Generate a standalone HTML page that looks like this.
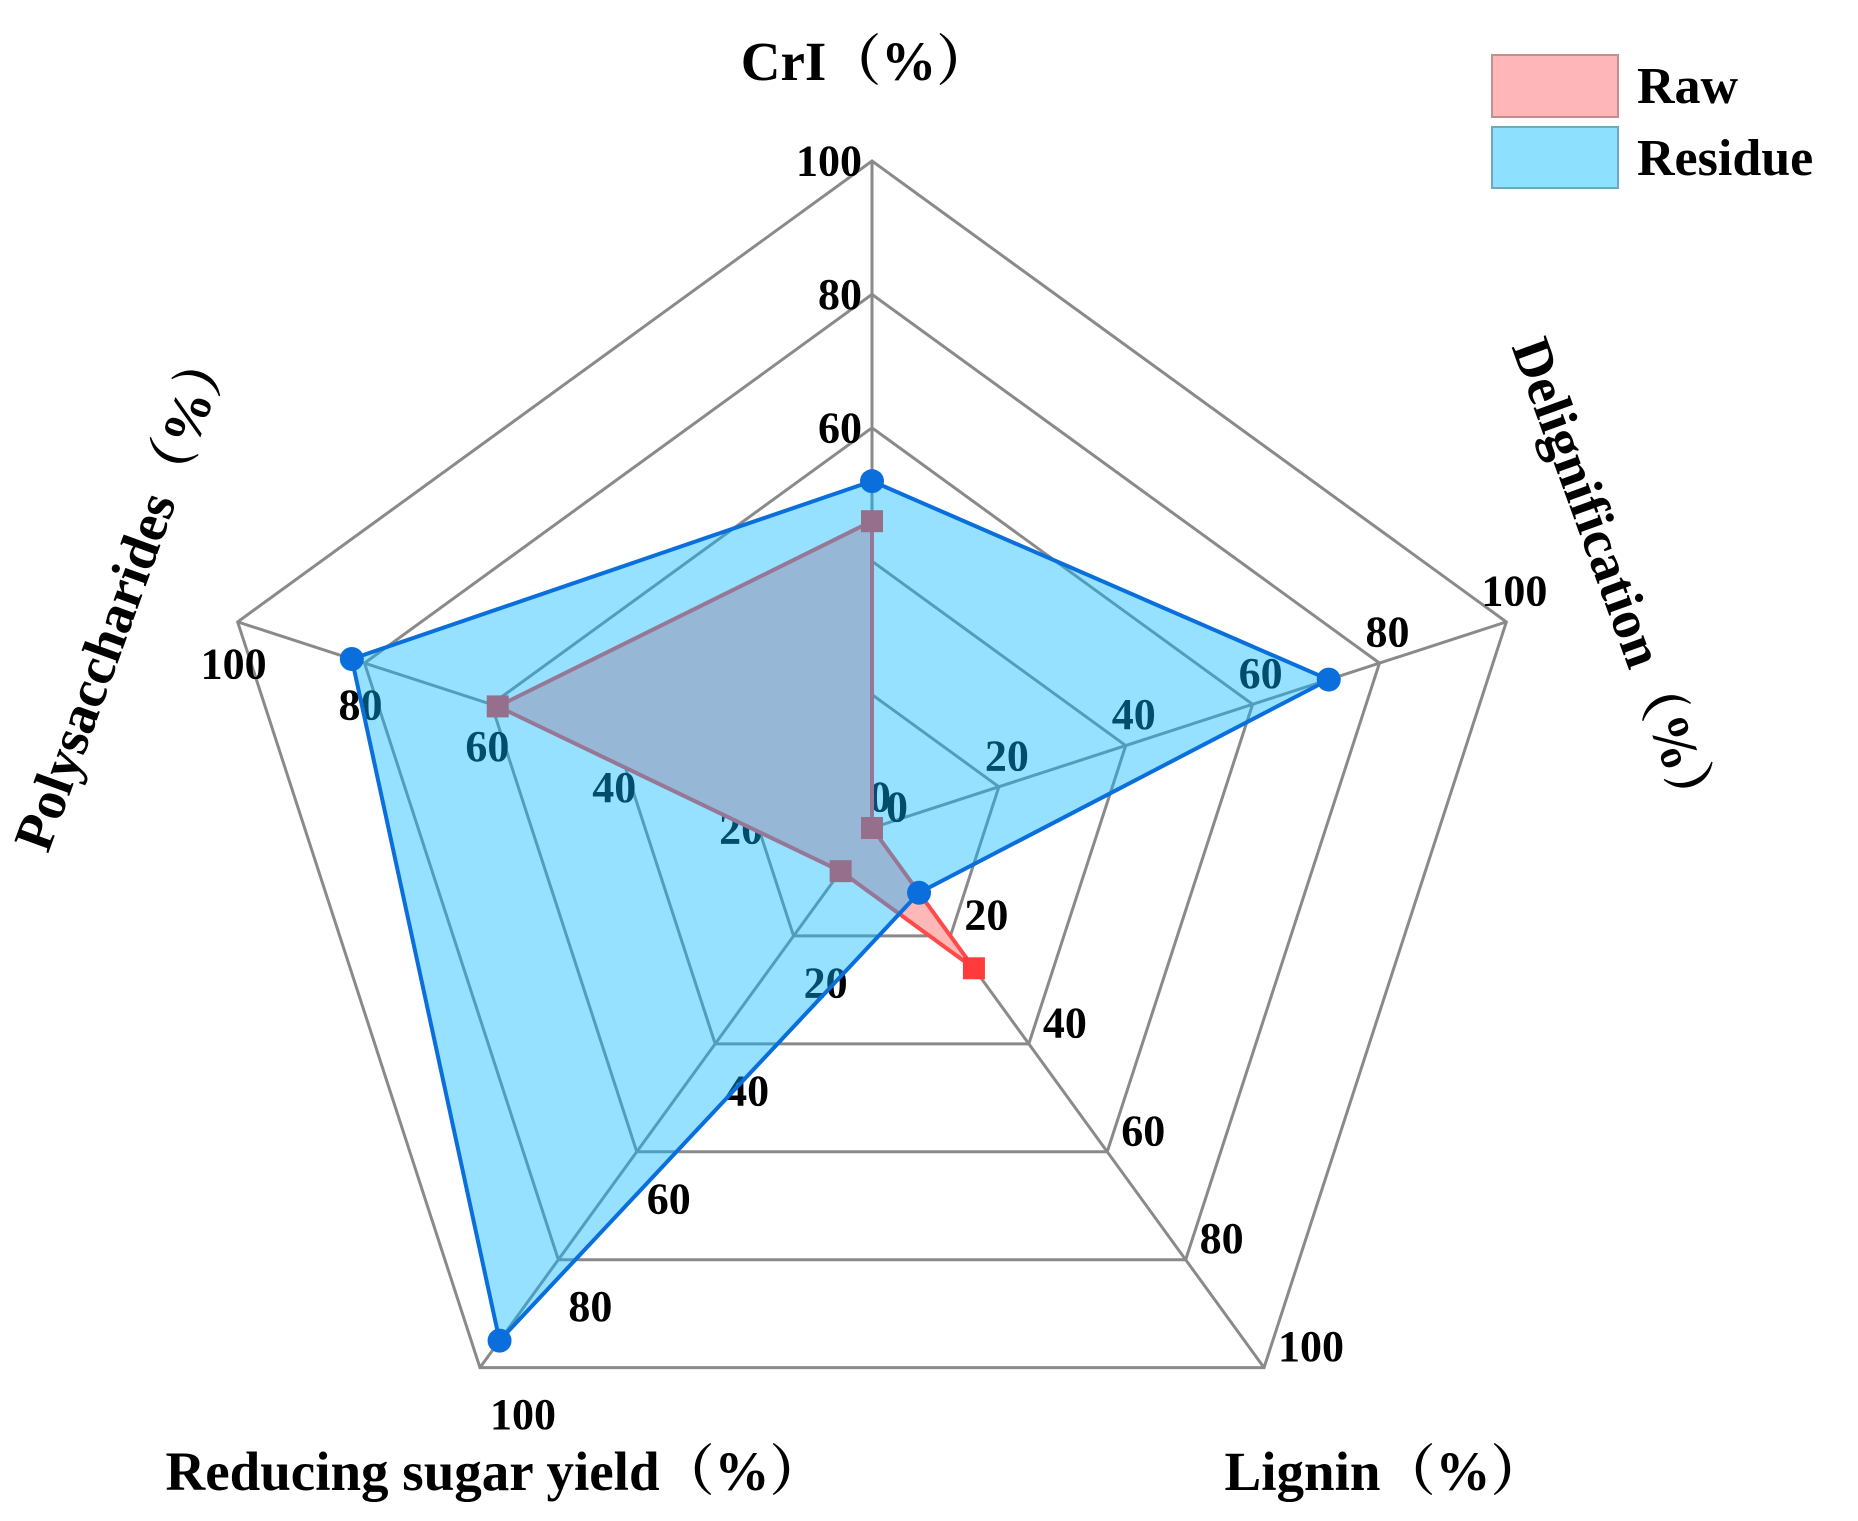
<!DOCTYPE html>
<html><head><meta charset="utf-8"><style>
html,body{margin:0;padding:0;background:#fff;}
svg{display:block;}
text{font-family:"Liberation Serif","Noto Serif CJK SC",serif;font-weight:bold;fill:#000;}
</style></head><body>
<svg id="chart" width="1858" height="1521" viewBox="0 0 1858 1521" xmlns="http://www.w3.org/2000/svg">
<g id="grid"></g>
<g id="ticks"></g>
<g id="series"></g>
<text x="866" y="80" font-size="55" text-anchor="middle">CrI（%）</text>
<text transform="translate(1616,580) rotate(70)" font-size="55" text-anchor="middle" dominant-baseline="central">Delignification（%）</text>
<text x="1385" y="1490" font-size="55" text-anchor="middle">Lignin（%）</text>
<text x="495" y="1490" font-size="55" text-anchor="middle">Reducing sugar yield（%）</text>
<text transform="translate(123,594) rotate(-70)" font-size="55" text-anchor="middle" dominant-baseline="central">Polysaccharides（%）</text>
<g>
<rect x="1492" y="55" width="126" height="62" fill="#ffb6b8" stroke="#c09090" stroke-width="2"/>
<text x="1637" y="103" font-size="52">Raw</text>
<rect x="1492" y="127" width="126" height="61" fill="#8ee0ff" stroke="#70a8c0" stroke-width="2"/>
<text x="1637" y="175" font-size="52">Residue</text>
</g>
</svg>
<script>
const axes = ["CrI", "Delignification", "Lignin", "Reducing sugar yield", "Polysaccharides"];
const rawValues = [46, 0, 26, 8, 59];
const residueValues = [52, 72, 12, 95, 82];
const tickValues = [0, 20, 40, 60, 80, 100];
const tickLabels = ["0", "20", "40", "60", "80", "100"];

const NS = "http://www.w3.org/2000/svg";
const cx = 872, cy = 828, R = 667, vmax = 100;
function rScale(v){ return v / vmax * R; }
function pt(i, v){ const a = i * 2 * Math.PI / axes.length; const r = rScale(v); return [cx + r * Math.sin(a), cy - r * Math.cos(a)]; }
function mk(tag, attrs, parent){ const e = document.createElementNS(NS, tag); for (const k in attrs) e.setAttribute(k, attrs[k]); parent.appendChild(e); return e; }

const grid = document.getElementById("grid");
tickValues.forEach((t) => {
  if (t === 0) return;
  const pts = axes.map((_, i) => pt(i, t).join(",")).join(" ");
  const ring = mk("polygon", {points: pts, fill: "none", stroke: "#8a8a8a", "stroke-width": 3}, grid);
  
  
});
axes.forEach((_, i) => {
  const p = pt(i, vmax);
  const ln = mk("line", {x1: cx, y1: cy, x2: p[0], y2: p[1], stroke: "#8a8a8a", "stroke-width": 3}, grid);
  
  
});

const off = [
  {dx: -10, dy: 0, anchor: "end"},
  {dx: 8, dy: -31, anchor: "middle"},
  {dx: 14, dy: -21, anchor: "start"},
  {dx: 10, dy: 47, anchor: "start"},
  {dx: -4, dy: 42, anchor: "middle"}
];
const ticks = document.getElementById("ticks");
axes.forEach((_, i) => {
  tickValues.forEach((t, j) => {
    const p = pt(i, t);
    const tx = mk("text", {x: p[0] + off[i].dx, y: p[1] + off[i].dy, "font-size": 44, "text-anchor": off[i].anchor, "dominant-baseline": "central"}, ticks);
    tx.textContent = tickLabels[j];
    
    
  });
});

const series = document.getElementById("series");
const rawPts = rawValues.map((v, i) => pt(i, v));
const rawPoly = mk("polygon", {points: rawPts.map(p => p.join(",")).join(" "), fill: "#ffb8b8", stroke: "#ff4a4a", "stroke-width": 4, "stroke-linejoin": "round"}, series);


rawPts.forEach((p, i) => {
  const m = mk("rect", {x: p[0] - 11, y: p[1] - 11, width: 22, height: 22, fill: "#ff3b3b"}, series);
  
  
});
const resPts = residueValues.map((v, i) => pt(i, v));
const resFill = mk("polygon", {points: resPts.map(p => p.join(",")).join(" "), fill: "rgb(4,184,255)", "fill-opacity": 0.42, stroke: "none"}, series);


const resLine = mk("polygon", {points: resPts.map(p => p.join(",")).join(" "), fill: "none", stroke: "#0a6fdc", "stroke-width": 4, "stroke-linejoin": "round"}, series);


resPts.forEach((p, i) => {
  const c = mk("circle", {cx: p[0], cy: p[1], r: 12, fill: "#0a6fdc"}, series);
  
  
});
</script>
</body></html>
